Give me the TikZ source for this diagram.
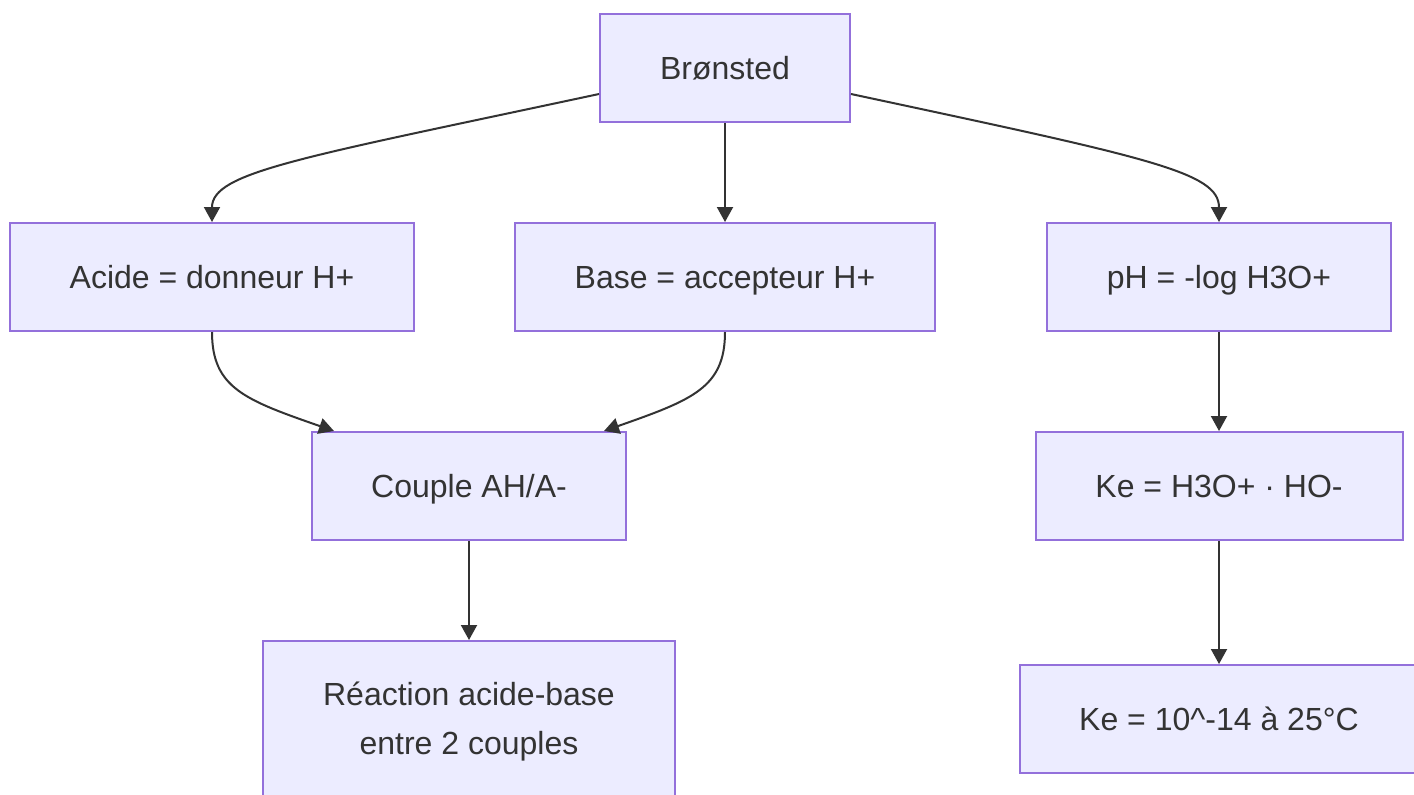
\documentclass[tikz,border=0pt]{standalone}
\usepackage{fontspec}
\setmainfont{Liberation Sans}
\usetikzlibrary{arrows.meta,calc}
\definecolor{boxfill}{HTML}{ECECFF}
\definecolor{boxline}{HTML}{9370DB}
\definecolor{ink}{HTML}{333333}
\tikzset{
  box/.style={draw=boxline, fill=boxfill, line width=1pt, inner sep=0pt,
    text=ink, align=center, font=\fontsize{16pt}{24.5pt}\selectfont,
    minimum height=54pt},
  oneline/.style={text height=13.1pt, text depth=1.9pt},
  link/.style={draw=ink, line width=1pt, -{Triangle[length=7.5pt,width=8pt]}}
}
\begin{document}
\begin{tikzpicture}[x=0.5pt,y=-0.5pt]
  \useasboundingbox (0,0) rectangle (1414,794);
  \clip (0,0) rectangle (1414,794);
  \fill[white] (0,0) rectangle (1414,794);

  % nodes
  \node[box, oneline, minimum width=125pt] (b) at (725,68) {Brønsted};
  \node[box, oneline, minimum width=202pt] (acide) at (212,277) {Acide = donneur H+};
  \node[box, oneline, minimum width=210pt] (base) at (725,277) {Base = accepteur H+};
  \node[box, oneline, minimum width=172pt] (ph) at (1219,277) {pH = -log H3O+};
  \node[box, oneline, minimum width=157pt] (couple) at (469,486) {Couple AH/A-};
  \node[box, oneline, minimum width=183.5pt] (ke) at (1219,486) {Ke = H3O+ · HO-};
  \node[box, minimum width=206pt, minimum height=81pt] (reac) at (469,722)
    {Réaction acide-base\\entre 2 couples};
  \node[box, oneline, minimum width=199pt] (ke14) at (1219,719) {Ke = 10\^{}-14 à 25°C};

  % connectors
  \draw[link] ($(b.west)+(0,26)$) .. controls (300,158) and (212,172) .. (acide.north);
  \draw[link] ($(b.east)+(0,26)$) .. controls (1150,158) and (1219,172) .. (ph.north);
  \draw[link] (b.south) -- (base.north);
  \draw[link] (acide.south) .. controls (212,388) and (245,400) .. ($(couple.north west)+(23,0)$);
  \draw[link] (base.south) .. controls (725,388) and (692,400) .. ($(couple.north east)+(-23,0)$);
  \draw[link] (couple.south) -- (reac.north);
  \draw[link] (ph.south) -- (ke.north);
  \draw[link] (ke.south) -- (ke14.north);
\end{tikzpicture}
\end{document}
